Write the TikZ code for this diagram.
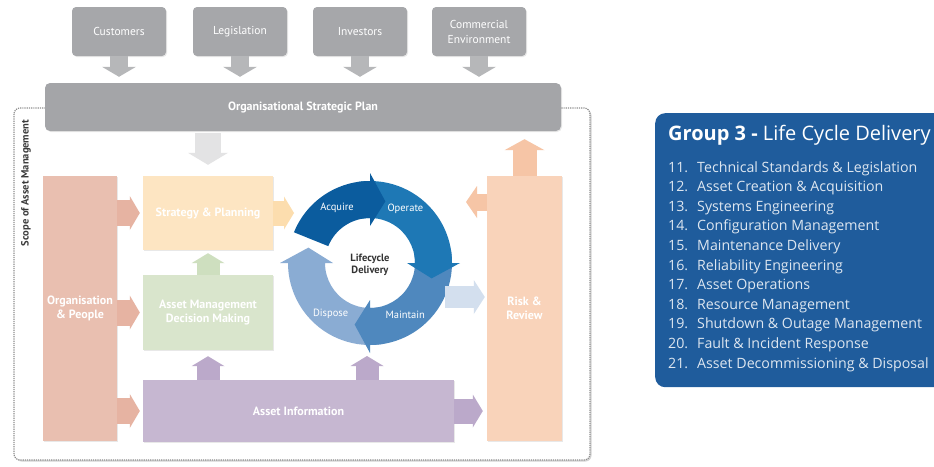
\documentclass[tikz,border=0pt]{standalone}
\usepackage{fontspec}
\setmainfont{PT Sans}
\newfontfamily\listfont{Open Sans}
\usetikzlibrary{arrows.meta}
\usetikzlibrary{shadows}

\definecolor{extgray}{HTML}{A6A7AA}
\definecolor{extarr}{HTML}{B6B7B9}
\definecolor{plangray}{HTML}{A4A5A8}
\definecolor{palegray}{HTML}{E3E3E4}
\definecolor{scopeline}{HTML}{8E8E8E}
\definecolor{scopetext}{HTML}{3A3A3A}
\definecolor{orgfill}{HTML}{E9BFB0}
\definecolor{orgarr}{HTML}{E6B3A2}
\definecolor{spfill}{HTML}{FDE5C2}
\definecolor{sparr}{HTML}{FCDDAE}
\definecolor{amdmfill}{HTML}{D9E5CC}
\definecolor{amdmarr}{HTML}{CEDFBF}
\definecolor{aifill}{HTML}{C6B7D1}
\definecolor{aiarr}{HTML}{BBA9CA}
\definecolor{riskfill}{HTML}{F9D3BA}
\definecolor{riskarr}{HTML}{F6C5A6}
\definecolor{acquire}{HTML}{0B5C9E}
\definecolor{operate}{HTML}{1E78B5}
\definecolor{maintain}{HTML}{4F88BE}
\definecolor{dispose}{HTML}{8AACD3}
\definecolor{cycarr}{HTML}{D3DFEE}
\definecolor{darktext}{HTML}{333333}
\definecolor{groupblue}{HTML}{1F5C9C}
\definecolor{listtext}{HTML}{DDE6F0}

\tikzset{
  block/.style={shape=rectangle, inner sep=2pt, align=center, text=white,
    font=\fontsize{12}{14.5}\selectfont\bfseries,
    drop shadow={shadow xshift=1pt, shadow yshift=-1pt, opacity=.18}},
  extbox/.style={block, fill=extgray, rounded corners=4pt,
    minimum width=94pt, minimum height=49pt, font=\fontsize{11.5}{15}\selectfont},
  fat/.style n args={3}{line width=#1,
    -{Triangle[width=#2, length=#3, line width=0pt]}},
  cyclbl/.style={text=white, font=\fontsize{10.5}{12}\selectfont},
  listnum/.style={anchor=base west, inner sep=0pt, text=listtext,
    font=\listfont\fontsize{14.2}{17}\selectfont},
  listitem/.style={listnum},
}

% one quarter of the lifecycle ring: band from #1 to #2 (clockwise) with its head
\newcommand{\cycseg}[3]{%
  \fill[#3] (#1:82) arc[start angle=#1, end angle=#2, radius=82]
    -- (#2:90) -- ({#2-14}:63.5) -- (#2:37) -- (#2:45)
    arc[start angle=#2, end angle=#1, radius=45] -- cycle;}

\begin{document}
\begin{tikzpicture}[x=1pt, y=-1pt]
  \useasboundingbox (0,0) rectangle (934,466);

  % scope frame
  \draw[scopeline, fill=white, densely dotted, line width=1.2pt, rounded corners=6pt,
    drop shadow={shadow xshift=1.5pt, shadow yshift=-1.5pt, opacity=.35}]
    (14,108) rectangle (590,460);
  \node[rotate=90, text=scopetext, font=\fontsize{10.5}{12}\selectfont\bfseries]
    (scopelbl) at (26,183) {Scope of Asset Management};

  % external drivers
  \node[extbox] (cust) at (119,31.5) {Customers};
  \node[extbox] (legis) at (240,31.5) {Legislation};
  \node[extbox] (invest) at (360,31.5) {Investors};
  \node[extbox] (comm) at (479,31.5) {Commercial\\Environment};

  \node[block, fill=plangray, rounded corners=5pt, minimum width=516pt,
    minimum height=48pt] (plan) at (303,107) {Organisational Strategic Plan};

  % management blocks
  \node[block, fill=orgfill, minimum width=74pt, minimum height=265pt]
    (org) at (80,308.5) {Organisation\\\& People};
  \node[block, fill=spfill, minimum width=130pt, minimum height=74pt]
    (sp) at (208,213) {Strategy \& Planning};
  \node[block, fill=amdmfill, minimum width=130pt, minimum height=75pt]
    (amdm) at (208,312.5) {Asset Management\\Decision Making};
  \node[block, fill=aifill, minimum width=311pt, minimum height=62pt]
    (ai) at (298.5,411) {Asset Information};
  \node[block, fill=riskfill, minimum width=75pt, minimum height=265pt]
    (risk) at (524.5,308.5) {Risk \&\\Review};

  % lifecycle ring
  \coordinate (cyc) at (370,263);
  \coordinate (cycin) at (294,213);
  \coordinate (cycout) at (445,297);
  \coordinate (cycfb) at (466,202);
  \coordinate (cycbase) at (367,356);
  \begin{scope}[shift={(cyc)}, yscale=-1]
    \cycseg{-80}{-180}{dispose}
    \cycseg{10}{-90}{maintain}
    \cycseg{100}{0}{operate}
    \cycseg{158}{90}{acquire}
    \node[cyclbl] (acq) at (121:64) {Acquire};
    \node[cyclbl] (oper) at (57:65) {Operate};
    \node[cyclbl] (maint) at (-56:63) {Maintain};
    \node[cyclbl] (disp) at (-128:64) {Dispose};
    \node[align=center, text=darktext, font=\fontsize{10.5}{12.5}\selectfont\bfseries]
      (lifecycle) at (0,-2) {Lifecycle\\Delivery};
  \end{scope}

  % block arrows
  \foreach \src in {cust, legis, invest, comm}
    \draw[fat={18pt}{34pt}{10pt}, draw=extarr, shorten >=6pt]
      (\src.south) -- (\src.south |- plan.north);
  \draw[fat={26pt}{40pt}{12pt}, draw=palegray, shorten <=2pt, shorten >=11pt]
    (plan.south -| sp) -- (sp.north);
  \foreach \dst in {sp, amdm, ai}
    \draw[fat={26pt}{34pt}{10pt}, draw=orgarr, shorten >=3pt]
      (org.east |- \dst) -- (\dst.west);
  \draw[fat={23pt}{33pt}{10pt}, draw=amdmarr, shorten >=3pt] (amdm.north) -- (sp.south);
  \draw[fat={23pt}{33pt}{10pt}, draw=aiarr, shorten >=6pt] (ai.north -| amdm) -- (amdm.south);
  \draw[fat={23pt}{33pt}{10pt}, draw=aiarr] (ai.north -| cycbase) -- (cycbase);
  \draw[fat={25pt}{33pt}{10pt}, draw=aiarr, shorten >=4pt] (ai.east) -- (ai.east -| risk.west);
  \draw[fat={25pt}{33pt}{10pt}, draw=sparr] (sp.east) -- (cycin);
  \draw[fat={22pt}{34pt}{11pt}, draw=cycarr, shorten >=2pt] (cycout) -- (cycout -| risk.west);
  \draw[fat={17pt}{32pt}{11pt}, draw=riskarr] (risk.west |- cycfb) -- (cycfb);
  \draw[fat={24pt}{40pt}{11pt}, draw=riskarr, shorten >=8pt] (risk.north) -- (risk.north |- plan.south);

  % group 3 panel
  \node[shape=rectangle, fill=groupblue, rounded corners=10pt, anchor=north west,
    minimum width=295pt, minimum height=274pt] (group) at (655,113) {};
  \node[anchor=west, inner sep=0pt, text=white, font=\listfont\fontsize{20}{24}\selectfont]
    (grouptitle) at (668,135) {\textbf{Group 3 -} Life Cycle Delivery};
  \foreach \num/\txt [count=\i from 0] in {
      11/Technical Standards \& Legislation,
      12/Asset Creation \& Acquisition,
      13/Systems Engineering,
      14/Configuration Management,
      15/Maintenance Delivery,
      16/Reliability Engineering,
      17/Asset Operations,
      18/Resource Management,
      19/Shutdown \& Outage Management,
      20/Fault \& Incident Response,
      21/Asset Decommissioning \& Disposal} {
    \node[listnum] (num\num) at (668,{172+19.6*\i}) {\num.};
    \node[listitem] (item\num) at (697,{172+19.6*\i}) {\txt};
  }
\end{tikzpicture}
\end{document}
